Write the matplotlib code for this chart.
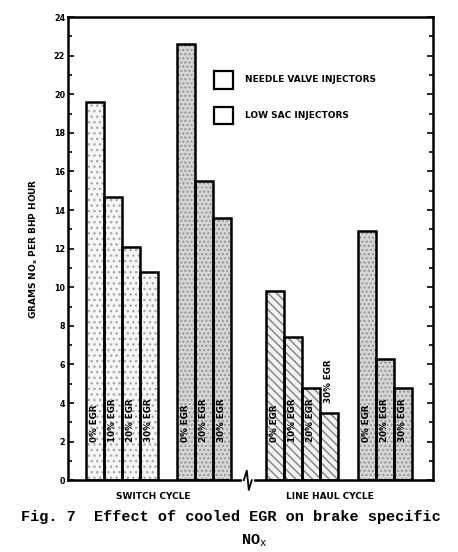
import matplotlib
matplotlib.use('Agg')
import matplotlib.pyplot as plt
from matplotlib.patches import Rectangle
from matplotlib.ticker import MultipleLocator

# values (grams NOx per bhp hour)
egr_needle = ['0% EGR', '10% EGR', '20% EGR', '30% EGR']
egr_lowsac = ['0% EGR', '20% EGR', '30% EGR']
switch_needle = [19.6, 14.7, 12.1, 10.8]
switch_lowsac = [22.6, 15.5, 13.6]
linehaul_needle = [9.8, 7.4, 4.8, 3.5]
linehaul_lowsac = [12.9, 6.3, 4.8]
cycles = ['SWITCH CYCLE', 'LINE HAUL CYCLE']
injectors = ['NEEDLE VALVE INJECTORS', 'LOW SAC INJECTORS']

fig = plt.figure(figsize=(4.58, 5.52), dpi=100)
ax = fig.add_axes([0.148, 0.130, 0.797, 0.839])

width = 18
styles = {
    'needle_sw': dict(face='#f6f6f6', hatch='...', hc='#a8a8a8'),
    'needle_lh': dict(face='#f2f2f2', hatch='\\\\\\\\', hc='#808080'),
    'lowsac': dict(face='#d6d6d6', hatch='....', hc='#959595'),
}
groups = [
    (18, switch_needle, egr_needle, 'needle_sw'),
    (109, switch_lowsac, egr_lowsac, 'lowsac'),
    (198, linehaul_needle, egr_needle, 'needle_lh'),
    (290, linehaul_lowsac, egr_lowsac, 'lowsac'),
]

for start, vals, labs, st in groups:
    s = styles[st]
    xs = [start + width * i for i in range(len(vals))]
    ax.bar(xs, vals, width=width, align='edge', color=s['face'],
           hatch=s['hatch'], edgecolor=s['hc'], linewidth=0, zorder=2)
    ax.bar(xs, vals, width=width, align='edge', fill=False,
           edgecolor='black', linewidth=1.8, zorder=3)
    for x, v, lab in zip(xs, vals, labs):
        y0 = 2.0 if v > 4.6 else v + 0.5
        ax.text(x + width / 2, y0, lab, rotation=90, ha='center', va='bottom',
                fontsize=6.3, fontweight='bold', zorder=4)

ax.set_xlim(0, 365)
ax.set_ylim(0, 24)
ax.set_xticks([])
ax.yaxis.set_major_locator(MultipleLocator(2))
ax.yaxis.set_minor_locator(MultipleLocator(1))
ax.tick_params(axis='y', which='both', direction='in', right=True,
               labelsize=5.8, width=1.2, pad=2)
ax.tick_params(axis='y', which='major', length=4)
ax.tick_params(axis='y', which='minor', length=3)
for lab in ax.get_yticklabels():
    lab.set_fontweight('bold')
for sp in ax.spines.values():
    sp.set_linewidth(1.8)

ax.set_ylabel('GRAMS NO$_\\mathbf{x}$ PER BHP HOUR', fontsize=6.5,
              fontweight='bold', labelpad=10)

# axis break between the two cycles
ax.plot([176, 184], [0, 0], color='white', lw=3, zorder=5, clip_on=False)
ax.plot([176, 179, 181, 184], [0, 0.5, -0.5, 0], color='black', lw=1.3,
        zorder=6, clip_on=False)

ax.text(85, -0.6, cycles[0], ha='center', va='top', fontsize=6.5,
        fontweight='bold')
ax.text(262, -0.6, cycles[1], ha='center', va='top', fontsize=6.5,
        fontweight='bold')

# legend boxes
for i, (name, st) in enumerate(zip(injectors, ['needle_sw', 'lowsac'])):
    yb = 20.3 - i * 1.85
    ax.add_patch(Rectangle((146, yb), 19, 0.9, facecolor='white',
                           edgecolor='black', linewidth=1.6, zorder=4))
    ax.text(177, yb + 0.45, name, ha='left', va='center', fontsize=6.5,
            fontweight='bold')

fig.text(0.045, 0.063, 'Fig. 7  Effect of cooled EGR on brake specific',
         family='Liberation Mono', fontsize=11, fontweight='bold',
         ha='left', va='center')
fig.text(0.555, 0.020, 'NO$_\\mathtt{x}$', family='Liberation Mono',
         fontsize=11, fontweight='bold', ha='center', va='center')

fig.savefig('out.png', dpi=100)
